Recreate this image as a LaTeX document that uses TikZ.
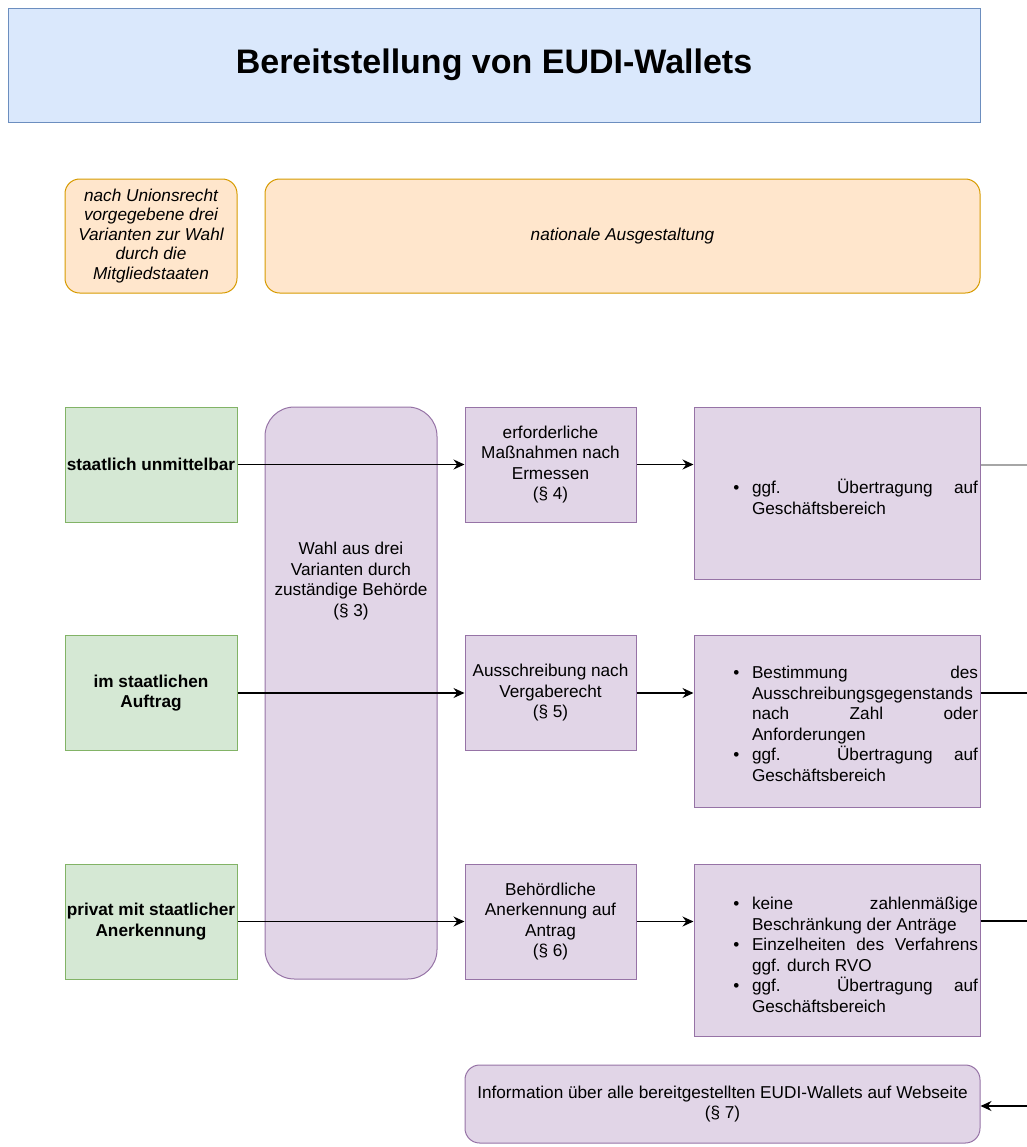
\documentclass[tikz,border=0pt]{standalone}
\usepackage{fontspec}
\setmainfont{Liberation Sans}
\usepackage{enumitem}
\usetikzlibrary{arrows.meta, positioning}
\definecolor{titlefill}{HTML}{DAE8FC}
\definecolor{titledraw}{HTML}{6C8EBF}
\definecolor{orangefill}{HTML}{FFE6CC}
\definecolor{orangedraw}{HTML}{D79B00}
\definecolor{greenfill}{HTML}{D5E8D4}
\definecolor{greendraw}{HTML}{82B366}
\definecolor{lilafill}{HTML}{E1D5E7}
\definecolor{liladraw}{HTML}{9673A6}
\setlist[itemize]{label=\textbullet, leftmargin=14.25pt, labelsep=9.5pt, nosep}
\tikzset{%
	every box/.style={
		draw,
		line width=0.75pt,
		inner sep=0pt,
		align=center,
		font=\fontsize{12.9}{15.4}\selectfont
	},
	titlebox/.style={
		every box,
		fill=titlefill, draw=titledraw,
		minimum width=729pt, minimum height=85.5pt,
		font=\bfseries\fontsize{25.5}{30}\selectfont
	},
	rulebox/.style={
		every box,
		fill=orangefill, draw=orangedraw,
		rounded corners=11pt,
		minimum height=85.5pt,
		font=\itshape\fontsize{12.9}{14.6}\selectfont
	},
	variantbox/.style={
		every box,
		fill=greenfill, draw=greendraw,
		minimum width=129pt, minimum height=86.25pt,
		font=\bfseries\fontsize{12.9}{15.4}\selectfont
	},
	stepbox/.style={
		every box,
		fill=lilafill, draw=liladraw,
		minimum width=128.25pt, minimum height=86.25pt
	},
	detailbox/.style={
		every box,
		fill=lilafill, draw=liladraw,
		minimum width=214.5pt, minimum height=129pt
	},
	listtext/.style={
		inner sep=0pt,
		text width=183.75pt,
		align=justify,
		font=\fontsize{12.9}{15.4}\selectfont
	},
	flow/.style={
		-{Stealth[length=8.25pt, width=7.5pt, inset=2.75pt]},
		line width=1.1pt
	},
}
\begin{document}
\begin{tikzpicture}[x=0.75pt, y=-0.75pt]
	\useasboundingbox (0,0) rectangle (1027,1147);

	% Title
	\node[titlebox] (title) at (494,65) {Bereitstellung von EUDI-Wallets};

	% Union law and national design
	\node[rulebox, minimum width=129pt] (union) at (151,236)
		{nach Unionsrecht\\vorgegebene drei\\Varianten zur Wahl\\durch die\\Mitgliedstaaten};
	\node[rulebox, minimum width=536.25pt] (national) at (622.5,236) {nationale Ausgestaltung};

	% The three variants
	\node[variantbox] (v1) at (151,464.5) {staatlich unmittelbar};
	\node[variantbox] (v2) at (151,693) {im staatlichen\\Auftrag};
	\node[variantbox] (v3) at (151,921.5) {privat mit staatlicher\\Anerkennung};

	% Choice by the authority
	\node[every box, fill=lilafill, draw=liladraw, rounded corners=22pt,
		minimum width=129pt, minimum height=429pt] (choice) at (351,693) {};
	\node[every box, draw=none] (choicetext) at (351,581)
		{Wahl aus drei\\Varianten durch\\zuständige Behörde\\(§ 3)};

	% Steps
	\node[stepbox] (s1) at (550.5,464.5) {erforderliche\\Maßnahmen nach\\Ermessen\\(§ 4)};
	\node[stepbox] (s2) at (550.5,693) {Ausschreibung nach\\Vergaberecht\\(§ 5)};
	\node[stepbox] (s3) at (550.5,921.5) {Behördliche\\Anerkennung auf\\Antrag\\(§ 6)};

	% Details
	\node[detailbox] (d1) at (837,493) {};
	\node[detailbox] (d2) at (837,721.5) {};
	\node[detailbox] (d3) at (837,950) {};
	\node[listtext] (d1text) at (855.5,494) {\hyphenpenalty=10000\tolerance=10000
		\begin{itemize}
			\item ggf. Übertragung auf Geschäftsbereich
		\end{itemize}};
	\node[listtext] (d2text) at (855.5,720) {\hyphenpenalty=10000\tolerance=10000
		\begin{itemize}
			\item Bestimmung des Ausschreibungsgegenstands nach Zahl oder Anforderungen
			\item ggf. Übertragung auf Geschäftsbereich
		\end{itemize}};
	\node[listtext] (d3text) at (855.5,951) {\hyphenpenalty=10000\tolerance=10000
		\begin{itemize}
			\item keine zahlenmäßige Beschränkung der Anträge
			\item Einzelheiten des Verfahrens ggf. durch RVO
			\item ggf. Übertragung auf Geschäftsbereich
		\end{itemize}};

	% Information on the website
	\node[every box, fill=lilafill, draw=liladraw, rounded corners=11pt,
		minimum width=386.25pt, minimum height=58.5pt] (info) at (722.5,1104)
		{Information über alle bereitgestellten EUDI-Wallets auf Webseite\\(§ 7)};

	% Free ends at the right edge
	\coordinate (o1) at (1027,465);
	\coordinate (o2) at (1027,693);
	\coordinate (o3) at (1027,921);
	\coordinate (o4) at (1027,1106);

	% Arrows
	\draw[flow] (v1.east) -- (s1.west);
	\draw[flow] (v2.east) -- (s2.west);
	\draw[flow] (v3.east) -- (s3.west);
	\draw[flow] (s1.east) -- (s1.east -| d1.west);
	\draw[flow] (s2.east) -- (s2.east -| d2.west);
	\draw[flow] (s3.east) -- (s3.east -| d3.west);
	\draw[line width=1.5pt, gray!70] (o1 -| d1.east) -- (o1);
	\draw[line width=1.1pt] (o2 -| d2.east) -- (o2);
	\draw[line width=1.1pt] (o3 -| d3.east) -- (o3);
	\draw[flow] (o4) -- (o4 -| info.east);
\end{tikzpicture}
\end{document}
